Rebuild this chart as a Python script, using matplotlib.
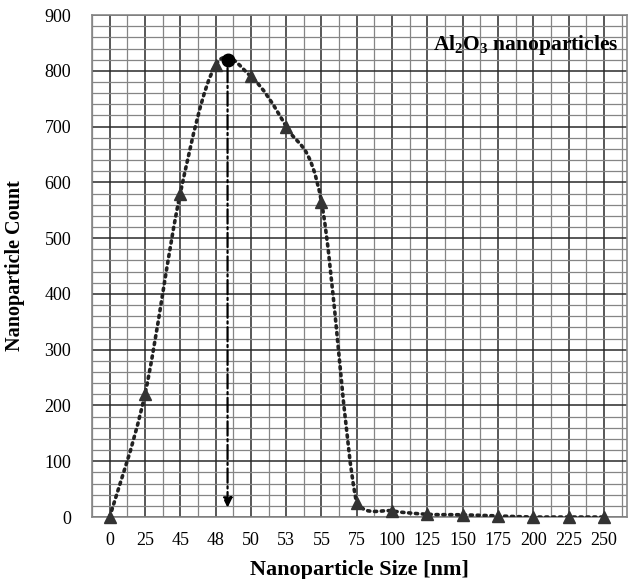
import matplotlib.pyplot as plt
import numpy as np
from matplotlib.path import Path
from matplotlib.patches import PathPatch
from matplotlib.ticker import MultipleLocator

plt.rcParams['font.family'] = ['Liberation Serif', 'DejaVu Serif']
plt.rcParams['mathtext.fontset'] = 'custom'
plt.rcParams['mathtext.rm'] = 'Liberation Serif:bold'
plt.rcParams['mathtext.it'] = 'Liberation Serif:bold'

# data
sizes = ['0', '25', '45', '48', '50', '53', '55', '75', '100', '125',
         '150', '175', '200', '225', '250']
counts = [0, 220, 580, 810, 790, 700, 565, 25, 11, 5, 4, 2, 0, 0, 0]
peak_pos = 3.34   # between 48 and 50 on the category axis
peak_count = 820

x = np.arange(len(sizes))
y = np.array(counts, dtype=float)

fig = plt.figure(figsize=(6.3, 5.79), dpi=100)
ax = fig.add_axes([0.146, 0.107, 0.849, 0.867])

# grid
ax.set_xlim(-0.5, 14.65)
ax.set_ylim(0, 900)
ax.set_xticks(x)
ax.set_xticklabels(sizes)
ax.xaxis.set_minor_locator(MultipleLocator(0.5))
ax.yaxis.set_major_locator(MultipleLocator(100))
ax.yaxis.set_minor_locator(MultipleLocator(20))
ax.grid(which='major', color='#2a2a2a', lw=1.1)
ax.grid(which='minor', color='#858585', lw=0.9)
ax.set_axisbelow(True)
ax.tick_params(which='both', length=0)
ax.tick_params(axis='x', pad=11, labelsize=13)
ax.tick_params(axis='y', pad=15, labelsize=13)
for s in ax.spines.values():
    s.set_color('#888888')
    s.set_linewidth(1.2)

# smooth dotted curve (Catmull-Rom style bezier through the points)
verts = [(x[0], y[0])]
codes = [Path.MOVETO]
n = len(x)
for i in range(n - 1):
    p0 = (x[max(i - 1, 0)], y[max(i - 1, 0)])
    p1 = (x[i], y[i])
    p2 = (x[i + 1], y[i + 1])
    p3 = (x[min(i + 2, n - 1)], y[min(i + 2, n - 1)])
    c1 = (p1[0] + (p2[0] - p0[0]) / 6, max(p1[1] + (p2[1] - p0[1]) / 6, 0))
    c2 = (p2[0] - (p3[0] - p1[0]) / 6, max(p2[1] - (p3[1] - p1[1]) / 6, 0))
    verts += [c1, c2, p2]
    codes += [Path.CURVE4] * 3
curve = PathPatch(Path(verts, codes), fill=False, edgecolor='#222222',
                  lw=2.6, linestyle=(0, (0.6, 1.3)), capstyle='round', zorder=3)
ax.add_patch(curve)

ax.plot(x, y, ls='none', marker='^', ms=8, color='#333333', zorder=4,
        clip_on=False)
ax.plot([peak_pos], [peak_count], 'o', ms=9, color='black', zorder=5)

# dash-dot arrow from the peak down to the axis
ax.annotate('', xy=(peak_pos, 12), xytext=(peak_pos, peak_count - 10),
            arrowprops=dict(arrowstyle='-|>', ls='-.', lw=1.6,
                            color='black', mutation_scale=14))

ax.text(0.985, 0.965, 'Al$_2$O$_3$ nanoparticles', transform=ax.transAxes,
        ha='right', va='top', fontsize=15.5, fontweight='bold')

ax.set_xlabel('Nanoparticle Size [nm]', fontsize=16, fontweight='bold',
              labelpad=8)
ax.set_ylabel('Nanoparticle Count', fontsize=14.5, fontweight='bold',
              labelpad=14)

fig.savefig('out.png', dpi=100)
